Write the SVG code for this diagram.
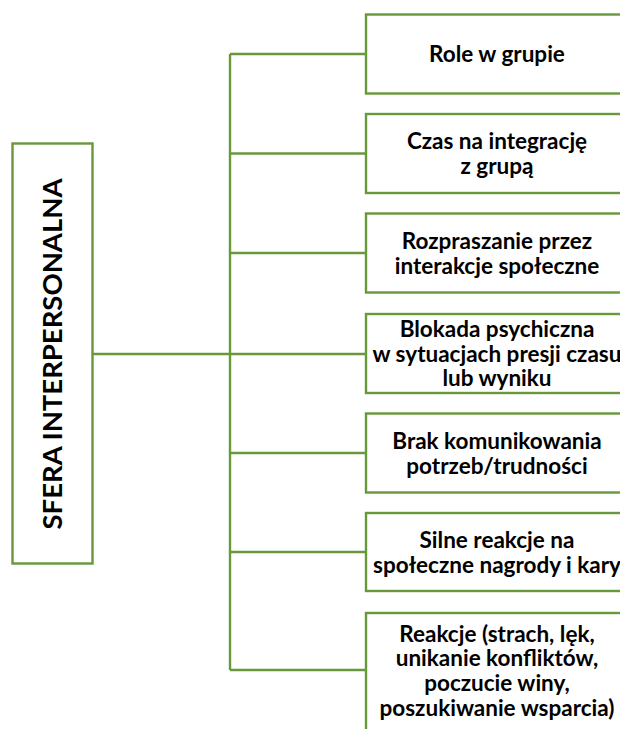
<svg xmlns="http://www.w3.org/2000/svg" width="620" height="729" viewBox="0 0 620 729">
  <style>
    .box { fill: #ffffff; stroke: #67983b; stroke-width: 2.4; }
    .link { fill: none; stroke: #67983b; stroke-width: 2.4; }
    .lbl { font-family: Lato, "Open Sans", "Liberation Sans", sans-serif; font-weight: bold; font-size: 22.5px; fill: #000000; text-anchor: middle; }
    .root { font-family: Lato, "Open Sans", "Liberation Sans", sans-serif; font-weight: bold; font-size: 27.5px; fill: #000000; text-anchor: middle; }
  </style>
  <rect width="620" height="729" fill="#ffffff"/>

  <!-- connectors -->
  <g id="connectors">
    <path class="link" d="M93 354 H230"/>
    <path class="link" d="M230 54 V670"/>
    <path class="link" d="M230 54 H366"/>
    <path class="link" d="M230 153.5 H366"/>
    <path class="link" d="M230 253 H366"/>
    <path class="link" d="M230 354 H366"/>
    <path class="link" d="M230 453 H366"/>
    <path class="link" d="M230 552 H366"/>
    <path class="link" d="M230 670 H366"/>
  </g>

  <!-- root -->
  <g id="sfera">
    <rect class="box" x="12.5" y="143.5" width="80" height="420"/>
    <text class="root" transform="translate(62 354) rotate(-90)" x="0" y="0">SFERA INTERPERSONALNA</text>
  </g>

  <g id="role">
    <rect class="box" x="366" y="14.5" width="280" height="79"/>
    <text class="lbl" x="497" y="62">Role w grupie</text>
  </g>

  <g id="czas">
    <rect class="box" x="366" y="114" width="280" height="79"/>
    <text class="lbl"><tspan x="497" y="149">Czas na integrację</tspan><tspan x="497" y="174">z grupą</tspan></text>
  </g>

  <g id="rozpraszanie">
    <rect class="box" x="366" y="213.5" width="280" height="79"/>
    <text class="lbl"><tspan x="497" y="249">Rozpraszanie przez</tspan><tspan x="497" y="273.5">interakcje społeczne</tspan></text>
  </g>

  <g id="blokada">
    <rect class="box" x="366" y="314" width="280" height="79"/>
    <text class="lbl"><tspan x="497" y="337">Blokada psychiczna</tspan><tspan x="497" y="361.5">w sytuacjach presji czasu</tspan><tspan x="497" y="386">lub wyniku</tspan></text>
  </g>

  <g id="brak">
    <rect class="box" x="366" y="413.5" width="280" height="79"/>
    <text class="lbl"><tspan x="497" y="449">Brak komunikowania</tspan><tspan x="497" y="473.5">potrzeb/trudności</tspan></text>
  </g>

  <g id="silne">
    <rect class="box" x="366" y="513" width="280" height="78"/>
    <text class="lbl"><tspan x="497" y="548">Silne reakcje na</tspan><tspan x="497" y="572.5">społeczne nagrody i kary</tspan></text>
  </g>

  <g id="reakcje">
    <rect class="box" x="366" y="613" width="280" height="130"/>
    <text class="lbl"><tspan x="497" y="641.5">Reakcje (strach, lęk,</tspan><tspan x="497" y="666.2">unikanie konfliktów,</tspan><tspan x="497" y="690.9">poczucie winy,</tspan><tspan x="497" y="715.6">poszukiwanie wsparcia)</tspan></text>
  </g>
</svg>
